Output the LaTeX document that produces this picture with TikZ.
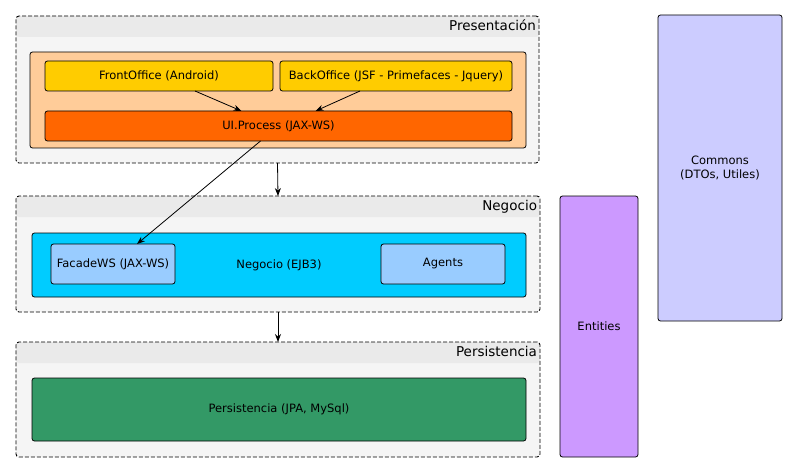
\documentclass[tikz,border=0pt]{standalone}
\usepackage{fontspec}
\setmainfont{DejaVu Sans}
\usepackage{xcolor}
\usetikzlibrary{positioning,arrows.meta,shapes}
\definecolor{layergray}{HTML}{F5F5F5}
\definecolor{headgray}{HTML}{EAEAEA}
\definecolor{peach}{HTML}{FFCC99}
\definecolor{gold}{HTML}{FFCC00}
\definecolor{orangeui}{HTML}{FF6600}
\definecolor{cyanneg}{HTML}{00CCFF}
\definecolor{lightblue}{HTML}{99CCFF}
\definecolor{greenper}{HTML}{339966}
\definecolor{violet}{HTML}{CC99FF}
\definecolor{lavender}{HTML}{CCCCFF}
\tikzset{
>={Stealth[length=8pt,width=6pt]},
  layer/.style={
    rectangle,
    rounded corners=3pt,
    draw=black, line width=0.9pt,
    dash pattern=on 4pt off 2pt,
    fill=layergray,
    path picture={\fill[headgray] (path picture bounding box.north west)
      rectangle ([yshift=-21pt]path picture bounding box.north east);}},
  layertitle/.style={anchor=north east, font=\fontsize{13.5}{15}\selectfont},
  module/.style={
    rectangle,
    rounded corners=2.5pt,
    draw=black, line width=0.8pt,
    text centered},
}

\begin{document}
\begin{tikzpicture}[x=1pt,y=-1pt]
  \tikzset{
      every node/.style={inner sep=0pt, outer sep=0pt, font=\fontsize{11.5}{13.5}\selectfont},
      myarrow/.style={draw, ->, line width=0.8pt},
  }
  \useasboundingbox (0,0) rectangle (797,473);

  % Presentacion
  \node[layer, minimum width=523pt, minimum height=147pt] (present) at (277.5,89.5) {};
  \node[layertitle] at ([xshift=-3pt,yshift=-4pt]present.north east) {Presentación};
  \node[module, fill=peach, minimum width=496pt, minimum height=96pt] (uicont) at (278,100) {};
  \node[module, fill=gold, minimum width=228pt, minimum height=30pt] (front) at (159,76) {FrontOffice (Android)};
  \node[module, fill=gold, minimum width=232pt, minimum height=30pt, right=7pt of front] (back) {BackOffice (JSF - Primefaces - Jquery)};
  \node[module, fill=orangeui, minimum width=467pt, minimum height=30pt] (uiproc) at (278.5,126) {UI.Process (JAX-WS)};

  % Negocio
  \node[layer, minimum width=524pt, minimum height=116pt] (negocio) at (278,254) {};
  \node[layertitle] at ([xshift=-3pt,yshift=-4pt]negocio.north east) {Negocio};
  \node[module, fill=cyanneg, minimum width=494pt, minimum height=64pt] (ejb) at (279,265) {Negocio (EJB3)};
  \node[module, fill=lightblue, minimum width=124pt, minimum height=40pt] (facade) at (113,264) {FacadeWS (JAX-WS)};
  \node[module, fill=lightblue, minimum width=124pt, minimum height=40pt] (agents) at (443,264) {Agents};

  % Persistencia
  \node[layer, minimum width=524pt, minimum height=115pt] (persist) at (278,399.5) {};
  \node[layertitle] at ([xshift=-3pt,yshift=-4pt]persist.north east) {Persistencia};
  \node[module, fill=greenper, minimum width=494pt, minimum height=63pt] (jpa) at (279,409.5) {Persistencia (JPA, MySql)};

  % transversales
  \node[module, fill=violet, minimum width=78pt, minimum height=261pt] (entities) at (599,326.5) {Entities};
  \node[module, fill=lavender, minimum width=124pt, minimum height=306pt, align=center] (commons) at (720,168) {Commons\\(DTOs, Utiles)};

  \path[myarrow] ([xshift=36pt]front.south) -- ([xshift=-37pt]uiproc.north);
  \path[myarrow] ([xshift=-36pt]back.south) -- ([xshift=37pt]uiproc.north);
  \path[myarrow] ([xshift=-18pt]uiproc.south) -- ([xshift=24pt]facade.north);
  \path[myarrow] (present.south) -- (negocio.north);
  \path[myarrow] (negocio.south) -- (persist.north);
\end{tikzpicture}
\end{document}
